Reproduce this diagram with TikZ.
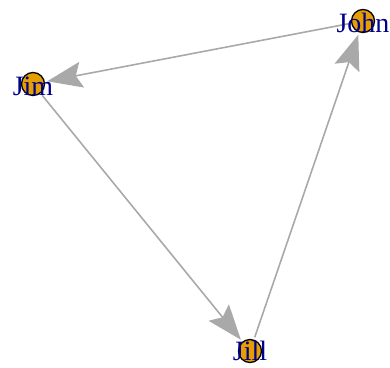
\documentclass[tikz,border=0pt]{standalone}
\usepackage{fontspec}
\setmainfont{Liberation Serif}
\usetikzlibrary{arrows.meta}
\definecolor{vfill}{HTML}{E69F00}
\definecolor{edgegray}{HTML}{A9A9A9}
\definecolor{lblue}{RGB}{0,0,139}
\tikzset{
  vertex/.style={circle, fill=vfill, draw=black, line width=1.3pt, minimum size=23pt, inner sep=0pt, outer sep=3pt},
  vlabel/.style={text=lblue, font=\fontsize{28}{28}\selectfont, inner sep=0pt, anchor=center},
  edge/.style={draw=edgegray, line width=1.6pt, -{Stealth[length=35pt, width=26pt, inset=6pt, fill=edgegray]}}
}
\begin{document}
\begin{tikzpicture}[x=1pt,y=-1pt]
\useasboundingbox (0,0) rectangle (390,367);
\node[vertex] (jim) at (33,84) {};
\node[vertex] (john) at (363,21) {};
\node[vertex] (jill) at (250,351) {};
\draw[edge] (john) -- (jim);
\draw[edge] (jim) -- (jill);
\draw[edge] (jill) -- (john);
\node[vlabel] (ljim) at (33,86) {Jim};
\node[vlabel] (ljohn) at (363,23) {John};
\node[vlabel] (ljill) at (250,351) {Jill};
\end{tikzpicture}
\end{document}
